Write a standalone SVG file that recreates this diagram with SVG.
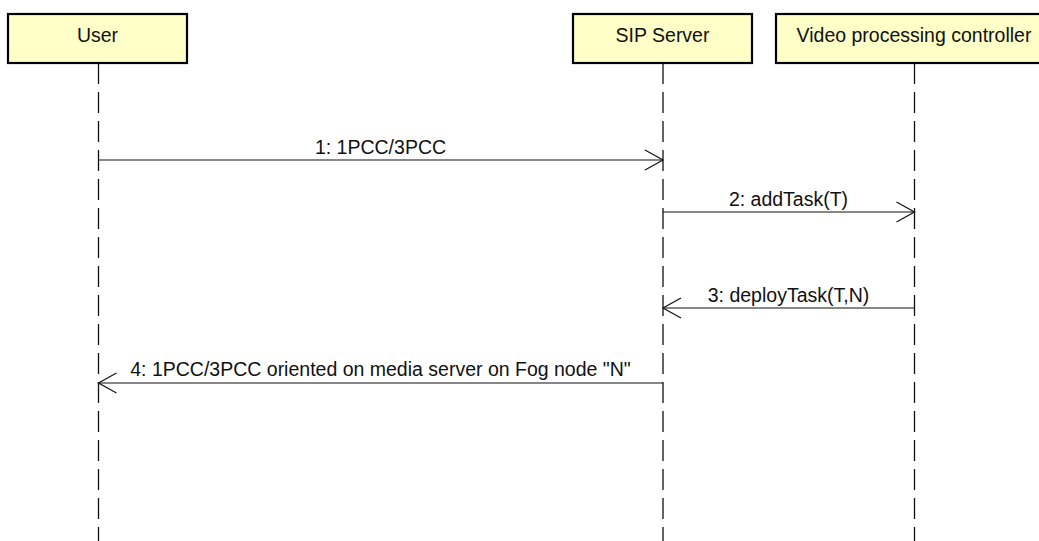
<svg xmlns="http://www.w3.org/2000/svg" width="1039" height="541" viewBox="0 0 1039 541">
<style>
.box{fill:#FFFFC8;stroke:#000;stroke-width:2.2}
.lbl{font-family:"Liberation Sans",Arial,sans-serif;font-size:19.5px;fill:#111;text-anchor:middle}
.life{stroke:#111;stroke-width:1.3;stroke-dasharray:21 8;fill:none}
.msg{stroke:#111;stroke-width:1.2;fill:none}
</style>
<rect width="1039" height="541" fill="#fff"/>
<g id="user">
<rect class="box" x="8" y="14" width="179" height="49"/>
<text class="lbl" x="97.5" y="42">User</text>
<line class="life" x1="98.5" y1="63" x2="98.5" y2="541"/>
</g>
<g id="sip-server">
<rect class="box" x="573" y="14" width="179" height="49"/>
<text class="lbl" x="662.5" y="42">SIP Server</text>
<line class="life" x1="663" y1="63" x2="663" y2="541"/>
</g>
<g id="video-controller">
<rect class="box" x="776" y="14" width="276" height="49"/>
<text class="lbl" x="914" y="42">Video processing controller</text>
<line class="life" x1="914.5" y1="63" x2="914.5" y2="541"/>
</g>
<g id="connectors">
<g id="m1">
<line class="msg" x1="98.5" y1="160" x2="663" y2="160"/>
<polyline class="msg" points="645,150 663,160 645,170"/>
<text class="lbl" x="380.5" y="154">1: 1PCC/3PCC</text>
</g>
<g id="m2">
<line class="msg" x1="663" y1="212" x2="914.5" y2="212"/>
<polyline class="msg" points="896.5,202 914.5,212 896.5,222"/>
<text class="lbl" x="788.5" y="205.5">2: addTask(T)</text>
</g>
<g id="m3">
<line class="msg" x1="914.5" y1="308" x2="663" y2="308"/>
<polyline class="msg" points="681,298 663,308 681,318"/>
<text class="lbl" x="788.5" y="301.5">3: deployTask(T,N)</text>
</g>
<g id="m4">
<line class="msg" x1="663" y1="383" x2="98.5" y2="383"/>
<polyline class="msg" points="116.5,373 98.5,383 116.5,393"/>
<text class="lbl" x="380.5" y="376">4: 1PCC/3PCC oriented on media server on Fog node "N"</text>
</g>
</g>
</svg>
